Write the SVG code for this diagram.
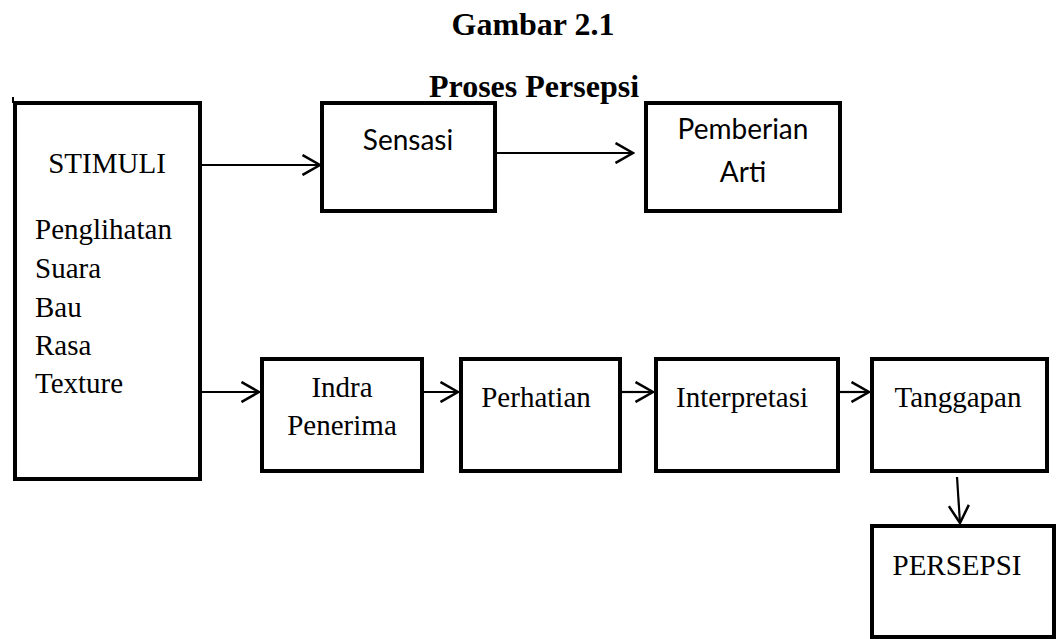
<svg xmlns="http://www.w3.org/2000/svg" width="1058" height="639" viewBox="0 0 1058 639">
  <style>
    .box { fill: #fff; stroke: #000; stroke-width: 4; }
    .serif { font-family: "Liberation Serif", "Times New Roman", serif; font-size: 29px; fill: #000; }
    .sans { font-family: Lato, "Open Sans", sans-serif; font-size: 28px; fill: #000; }
    .title { font-family: "Liberation Serif", "Times New Roman", serif; font-size: 32px; font-weight: bold; fill: #000; }
    .conn { stroke: #000; stroke-width: 2.2; fill: none; }
  </style>
  <defs>
    <marker id="arrow" markerUnits="userSpaceOnUse" viewBox="0 0 20 22" refX="18.5" refY="11" markerWidth="20" markerHeight="22" orient="auto">
      <path d="M1,1 L18.5,11 L1,21" fill="none" stroke="#000" stroke-width="2.5"/>
    </marker>
  </defs>
  <rect width="1058" height="639" fill="#fff"/>

  <text class="title" x="533" y="35" text-anchor="middle">Gambar 2.1</text>
  <text class="title" x="534" y="97" text-anchor="middle">Proses Persepsi</text>

  <g id="stimuli">
    <rect class="box" x="15" y="103" width="185" height="376"/>
    <path d="M13,97 L13,103" stroke="#000" stroke-width="2" fill="none"/>
    <text class="serif" x="107" y="173" text-anchor="middle">STIMULI</text>
    <text class="serif" x="35" y="239">Penglihatan</text>
    <text class="serif" x="35" y="278">Suara</text>
    <text class="serif" x="35" y="317">Bau</text>
    <text class="serif" x="35" y="355">Rasa</text>
    <text class="serif" x="35" y="393">Texture</text>
  </g>
  <g id="sensasi">
    <rect class="box" x="322" y="103" width="173" height="108"/>
    <text class="sans" x="408" y="150" text-anchor="middle">Sensasi</text>
  </g>
  <g id="pemberian-arti">
    <rect class="box" x="646" y="103" width="194" height="108"/>
    <text class="sans" x="743" y="139" text-anchor="middle">Pemberian</text>
    <text class="sans" x="743" y="182" text-anchor="middle">Arti</text>
  </g>
  <g id="indra-penerima">
    <rect class="box" x="262" y="359" width="160" height="112"/>
    <text class="serif" x="342" y="397" text-anchor="middle">Indra</text>
    <text class="serif" x="342" y="435" text-anchor="middle">Penerima</text>
  </g>
  <g id="perhatian">
    <rect class="box" x="461" y="359" width="159" height="112"/>
    <text class="serif" x="536" y="407" text-anchor="middle">Perhatian</text>
  </g>
  <g id="interpretasi">
    <rect class="box" x="656" y="359" width="182" height="112"/>
    <text class="serif" x="742" y="407" text-anchor="middle">Interpretasi</text>
  </g>
  <g id="tanggapan">
    <rect class="box" x="872" y="359" width="175" height="112"/>
    <text class="serif" x="958" y="407" text-anchor="middle">Tanggapan</text>
  </g>
  <g id="persepsi">
    <rect class="box" x="872" y="526" width="182" height="111"/>
    <text class="serif" x="957" y="575" text-anchor="middle">PERSEPSI</text>
  </g>

  <g id="connectors">
    <path class="conn" d="M202,165 L320,165" marker-end="url(#arrow)"/>
    <path class="conn" d="M497,153 L633,153" marker-end="url(#arrow)"/>
    <path class="conn" d="M202,392 L259,392" marker-end="url(#arrow)"/>
    <path class="conn" d="M424,392 L458,392" marker-end="url(#arrow)"/>
    <path class="conn" d="M622,392 L653,392" marker-end="url(#arrow)"/>
    <path class="conn" d="M840,392 L869,392" marker-end="url(#arrow)"/>
    <path class="conn" d="M957,477 L960,523" marker-end="url(#arrow)"/>
  </g>
</svg>
